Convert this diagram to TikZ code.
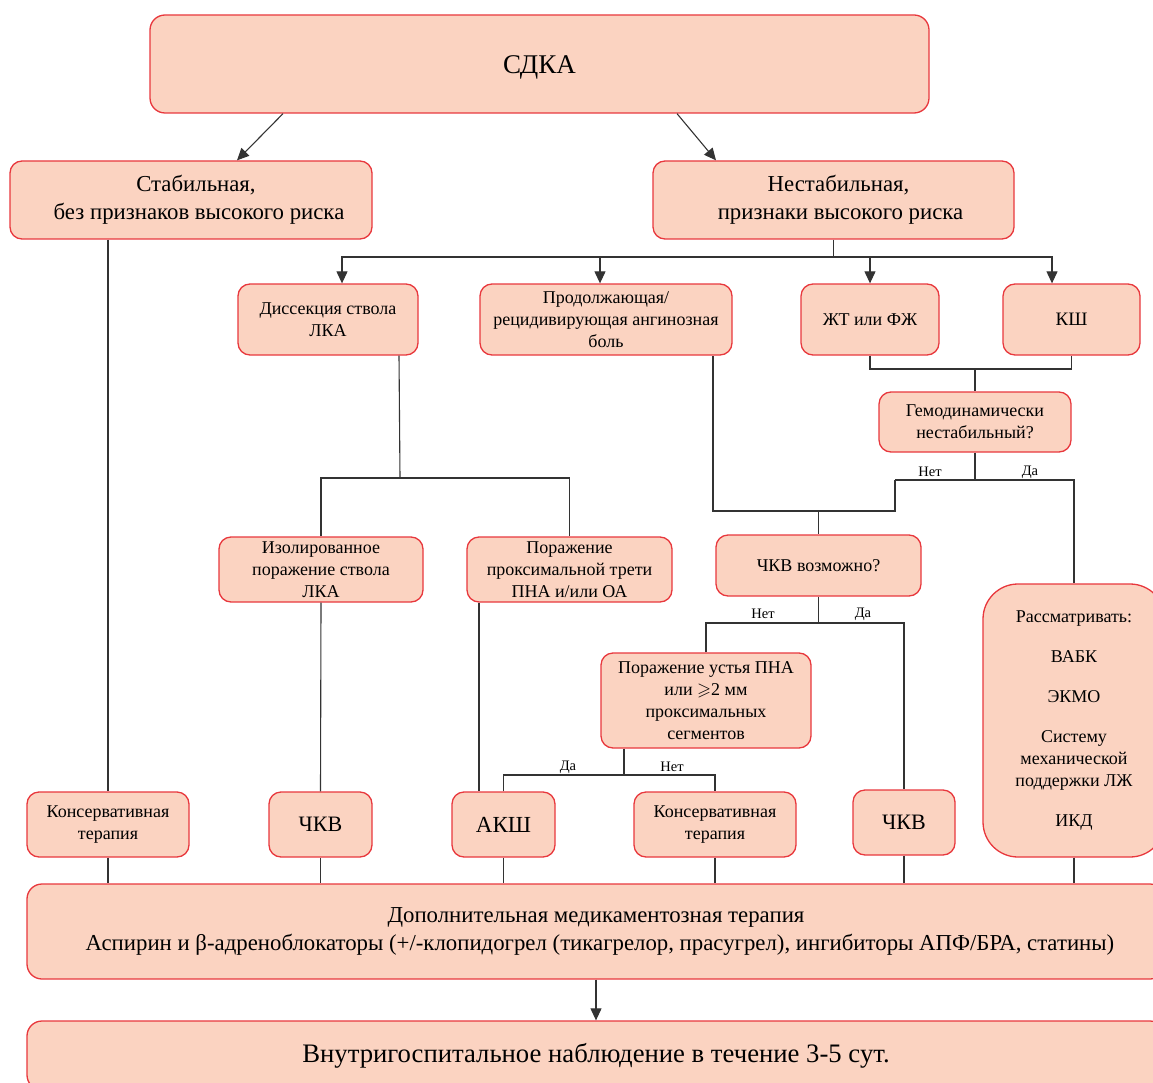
\documentclass[tikz,border=0pt]{standalone}
\usepackage{amssymb}
\usepackage{fontspec}
\setmainfont{Liberation Serif}
\usetikzlibrary{arrows.meta,calc}
\definecolor{boxfill}{HTML}{FBD3C1}
\definecolor{boxline}{HTML}{E8383D}
\definecolor{connc}{HTML}{333333}
\tikzset{
  box/.style={draw=boxline, fill=boxfill, line width=1.3pt, rounded corners=12pt,
    align=center, inner sep=0pt, font=\fontsize{18}{22}\selectfont},
  conn/.style={draw=connc, line width=1.1pt},
  arr/.style={conn, -{Triangle[length=12pt,width=11pt]}},
  lab/.style={font=\fontsize{14.5}{16}\selectfont, inner sep=0pt},
}
\begin{document}
\begin{tikzpicture}[x=1pt,y=-1pt]
\path[use as bounding box, clip] (0,0) rectangle (1153,1083);

% boxes
\node[box, rounded corners=15pt, minimum width=779pt, minimum height=98pt, font=\fontsize{27}{30}\selectfont] (sdka) at (539.5,64) {\raisebox{-3pt}[\height][\depth]{СДКА}};
\node[box, minimum width=362pt, minimum height=78pt, font=\fontsize{22.8}{28}\selectfont] (stab) at (191,200) {\hspace*{10pt}Стабильная,\\\hspace*{16pt}без признаков высокого риска};
\node[box, minimum width=361pt, minimum height=78pt, font=\fontsize{22.8}{28}\selectfont] (nestab) at (833.5,200) {\hspace*{10pt}Нестабильная,\\\hspace*{14pt}признаки высокого риска};

\node[box, minimum width=180pt, minimum height=71pt] (diss) at (328,319.5) {Диссекция ствола\\ЛКА};
\node[box, minimum width=252pt, minimum height=71pt] (prod) at (606,319.5) {Продолжающая/\\рецидивирующая ангинозная\\боль};
\node[box, minimum width=138pt, minimum height=71pt, font=\fontsize{18}{22}\selectfont] (zht) at (870,319.5) {ЖТ или ФЖ};
\node[box, minimum width=137pt, minimum height=71pt, font=\fontsize{19}{22}\selectfont] (ksh) at (1071.5,319.5) {КШ};

\node[box, minimum width=192pt, minimum height=60pt] (gemo) at (975,422) {Гемодинамически\\нестабильный?};

\node[box, minimum width=204pt, minimum height=65pt] (izol) at (321,569.5) {Изолированное\\поражение ствола\\ЛКА};
\node[box, minimum width=205pt, minimum height=65pt] (prox) at (569.5,569.5) {Поражение\\проксимальной трети\\ПНА и/или ОА};
\node[box, minimum width=205pt, minimum height=61pt] (pchk) at (818.5,565.5) {ЧКВ возможно?};

\node[box, minimum width=210pt, minimum height=95pt] (ust) at (706,700.5) {Поражение устья ПНА\\или $\geqslant$2 мм\\проксимальных\\сегментов};

\node[box, rounded corners=35pt, minimum width=182pt, minimum height=273pt] (rass) at (1074,720.5)
  {Рассматривать:\\[18pt]ВАБК\\[18pt]ЭКМО\\[18pt]Систему\\механической\\поддержки ЛЖ\\[18pt]ИКД};

\node[box, minimum width=162pt, minimum height=65pt, font=\fontsize{18}{22}\selectfont] (kons1) at (108,824.5) {Консервативная\\терапия};
\node[box, minimum width=103pt, minimum height=65pt, font=\fontsize{22}{24}\selectfont] (chkv1) at (320.5,824.5) {ЧКВ};
\node[box, minimum width=103pt, minimum height=65pt, font=\fontsize{23}{24}\selectfont] (aksh) at (503.5,824.5) {АКШ};
\node[box, minimum width=162pt, minimum height=65pt, font=\fontsize{18}{22}\selectfont] (kons2) at (715,824.5) {Консервативная\\терапия};
\node[box, minimum width=102pt, minimum height=65pt, font=\fontsize{22}{24}\selectfont] (chkv2) at (904,822.5) {ЧКВ};

\node[box, rounded corners=15pt, minimum width=1138pt, minimum height=95pt, font=\fontsize{22.8}{28}\selectfont] (dop) at (596,931.5)
  {Дополнительная медикаментозная терапия\\\hspace*{8pt}Аспирин и β-адреноблокаторы (+/-клопидогрел (тикагрелор, прасугрел), ингибиторы АПФ/БРА, статины)};
\node[box, rounded corners=15pt, minimum width=1138pt, minimum height=69pt, font=\fontsize{26.7}{30}\selectfont] (vnut) at (596,1055.5)
  {Внутригоспитальное наблюдение в течение 3-5 сут.};

% connectors
\draw[arr] ([xshift=-256.5pt]sdka.south) -- ([xshift=46pt]stab.north);
\draw[arr] ([xshift=137.5pt]sdka.south) -- ([xshift=-117.5pt]nestab.north);

\draw[conn] (stab.south -| kons1.north) -- (kons1.north);

\coordinate (jA) at (833.5,257);
\draw[conn] (nestab.south) -- (jA);
\draw[arr] (jA) -| ([xshift=14pt]diss.north);
\draw[arr] (jA) -| ([xshift=-6pt]prod.north);
\draw[arr] (jA) -| (zht.north);
\draw[arr] (jA) -| ([xshift=-19.5pt]ksh.north);

\coordinate (jB) at (975,369);
\draw[conn] (zht.south) |- (ksh.south |- jB) -- (ksh.south);
\draw[conn] (jB) -- (gemo.north);

\coordinate (jC) at (975,480);
\coordinate (jCl) at (895,480);
\coordinate (jCr) at (1074,480);
\draw[conn] (gemo.south) -- (jC);
\draw[conn] (jCl) -- (jCr) -- (rass.north);
\node[lab] (netA) at (930,472) {Нет};
\node[lab] (daA) at (1030,472) {Да};

\coordinate (jD) at (818.5,511);
\coordinate (pS) at ([xshift=107pt]prod.south);
\draw[conn] (jCl) |- (pS |- jD) -- (pS);
\draw[conn] (jD) -- (pchk.north);

\coordinate (jE) at (818.5,623);
\draw[conn] (pchk.south) -- (jE);
\draw[conn] (ust.north) |- (jE) -| (chkv2.north);
\node[lab] (netB) at (763,614) {Нет};
\node[lab] (daB) at (863,614) {Да};

\coordinate (jF) at (624,775);
\draw[conn] ([xshift=-82pt]ust.south) -- (jF);
\draw[conn] (aksh.north) |- (jF) -| (kons2.north);
\node[lab] (daC) at (568,767) {Да};
\node[lab] (netC) at (672,767) {Нет};

\coordinate (jG) at (400,478);
\draw[conn] ([xshift=71pt]diss.south) -- (jG);
\draw[conn] (izol.north) |- (jG) -| (prox.north);

\draw[conn] (izol.south) -- (chkv1.north);
\coordinate (pxS) at ([xshift=-90.5pt]prox.south);
\draw[conn] (pxS) -- (pxS |- aksh.north);

\foreach \n in {kons1,chkv1,aksh,kons2,chkv2,rass}
  \draw[conn] (\n.south) -- (\n.south |- dop.north);

\draw[arr] (dop.south) -- (vnut.north);
\end{tikzpicture}
\end{document}
